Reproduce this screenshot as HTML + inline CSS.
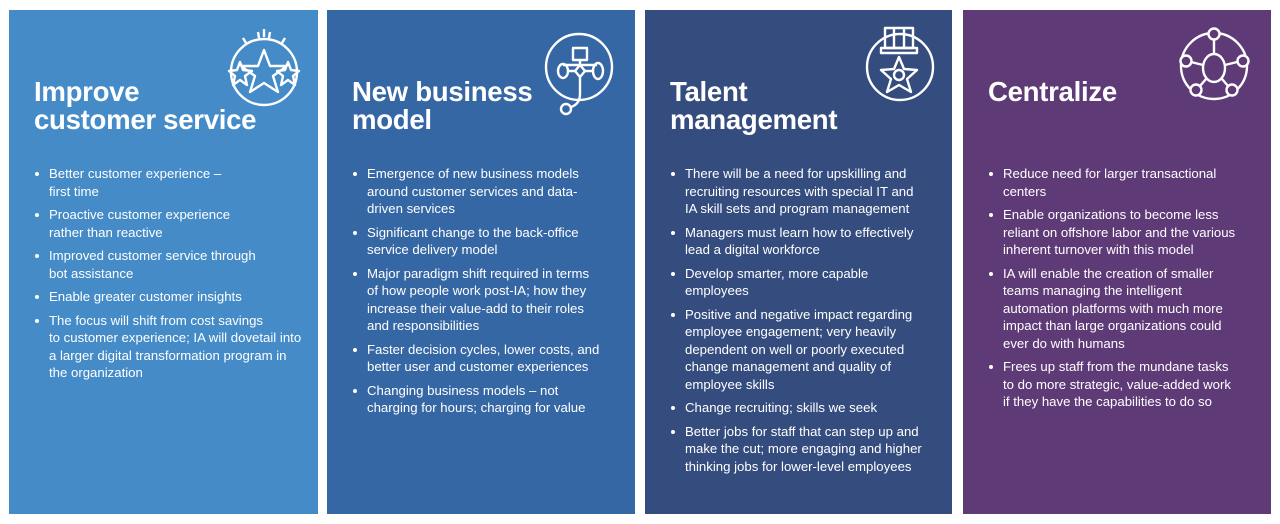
<!DOCTYPE html>
<html><head><meta charset="utf-8"><style>
body{margin:0;width:1280px;height:524px;background:#fff;position:relative;overflow:hidden;font-family:"Liberation Sans",Arial,sans-serif;color:#fff}
.p{position:absolute;top:10px;height:504px}
h2{position:absolute;left:25px;top:68px;margin:0;font-size:27.6px;line-height:28px;font-weight:bold;letter-spacing:-0.3px}
ul{position:absolute;left:22px;top:155px;margin:0;padding:0;list-style:none;font-size:13.2px;line-height:17.5px}
li{position:relative;padding-left:18px;margin-bottom:6px;white-space:nowrap}
li:before{content:"";position:absolute;left:4px;top:7px;width:4px;height:4px;border-radius:50%;background:#fff}
svg{position:absolute;left:0;top:0}
</style></head><body>
<div class="p" style="left:9px;width:309px;background:#448bc8">
<h2>Improve<br>customer service</h2>
<ul><li>Better customer experience –<br>first time</li><li>Proactive customer experience<br>rather than reactive</li><li>Improved customer service through<br>bot assistance</li><li>Enable greater customer insights</li><li>The focus will shift from cost savings<br>to customer experience; IA will dovetail into<br>a larger digital transformation program in<br>the organization</li></ul>
</div>
<div class="p" style="left:327px;width:308px;background:#3667a5">
<h2>New business<br>model</h2>
<ul><li>Emergence of new business models<br>around customer services and data-<br>driven services</li><li>Significant change to the back-office<br>service delivery model</li><li>Major paradigm shift required in terms<br>of how people work post-IA; how they<br>increase their value-add to their roles<br>and responsibilities</li><li>Faster decision cycles, lower costs, and<br>better user and customer experiences</li><li>Changing business models – not<br>charging for hours; charging for value</li></ul>
</div>
<div class="p" style="left:645px;width:307px;background:#354c7e">
<h2>Talent<br>management</h2>
<ul><li>There will be a need for upskilling and<br>recruiting resources with special IT and<br>IA skill sets and program management</li><li>Managers must learn how to effectively<br>lead a digital workforce</li><li>Develop smarter, more capable<br>employees</li><li>Positive and negative impact regarding<br>employee engagement; very heavily<br>dependent on well or poorly executed<br>change management and quality of<br>employee skills</li><li>Change recruiting; skills we seek</li><li>Better jobs for staff that can step up and<br>make the cut; more engaging and higher<br>thinking jobs for lower-level employees</li></ul>
</div>
<div class="p" style="left:963px;width:308px;background:#5e3a77">
<h2>Centralize</h2>
<ul><li>Reduce need for larger transactional<br>centers</li><li>Enable organizations to become less<br>reliant on offshore labor and the various<br>inherent turnover with this model</li><li>IA will enable the creation of smaller<br>teams managing the intelligent<br>automation platforms with much more<br>impact than large organizations could<br>ever do with humans</li><li>Frees up staff from the mundane tasks<br>to do more strategic, value-added work<br>if they have the capabilities to do so</li></ul>
</div>
<svg width="1280" height="524" fill="none" stroke="#fff" stroke-width="2.4" stroke-linejoin="round">
<circle cx="264" cy="72" r="33"/>
<path d="M259 38 l-1 -6 M264 37 v-8 M269 38 l1 -6 M246 43 l-3 -5 M282 43 l3 -5"/>
<path d="M264 50 L270 66 L287 66 L273 76 L278 92 L264 83 L250 92 L255 76 L241 66 L258 66Z" fill="#448bc8"/>
<path d="M240 62 L243 70 L252 71 L245 76 L247 85 L240 80 L233 85 L235 76 L229 71 L237 70Z" fill="#448bc8"/>
<path d="M288 62 L291 70 L299 71 L293 76 L295 85 L288 80 L281 85 L283 76 L277 71 L285 70Z" fill="#448bc8"/>
<circle cx="579" cy="67" r="33"/>
<rect x="573" y="48" width="14" height="12"/>
<path d="M580 60 v5 M563 65 h34"/>
<ellipse cx="563" cy="71" rx="5" ry="7"/><ellipse cx="598" cy="71" rx="5" ry="8"/>
<path d="M580 65 L585 71 L580 77 L575 71Z"/>
<path d="M568 71 h7 M585 71 h8 M580 77 V94 Q580 104 571 107"/>
<circle cx="566" cy="109" r="5"/>
<circle cx="900" cy="67" r="33"/>
<rect x="885" y="28" width="28" height="20"/>
<path d="M894 28 V48 M904 28 V48 M881 48 H917 V53 H881Z"/>
<path d="M899 57 L904 69 L917 70 L907 79 L911 92 L899 85 L887 92 L891 79 L881 70 L894 69Z"/>
<circle cx="899" cy="75" r="5"/>
<circle cx="1214" cy="66" r="33"/>
<ellipse cx="1214" cy="68" rx="11" ry="14"/>
<circle cx="1214" cy="34" r="5.5" fill="#5e3a77"/><circle cx="1186" cy="61" r="5.5" fill="#5e3a77"/><circle cx="1243" cy="61" r="5.5" fill="#5e3a77"/><circle cx="1196" cy="90" r="5.5" fill="#5e3a77"/><circle cx="1232" cy="90" r="5.5" fill="#5e3a77"/>
<path d="M1214 40 V54 M1191 62 L1203 65 M1237 62 L1225 65 M1200 86 L1206 79 M1228 86 L1222 79"/>
</svg>
</body></html>
